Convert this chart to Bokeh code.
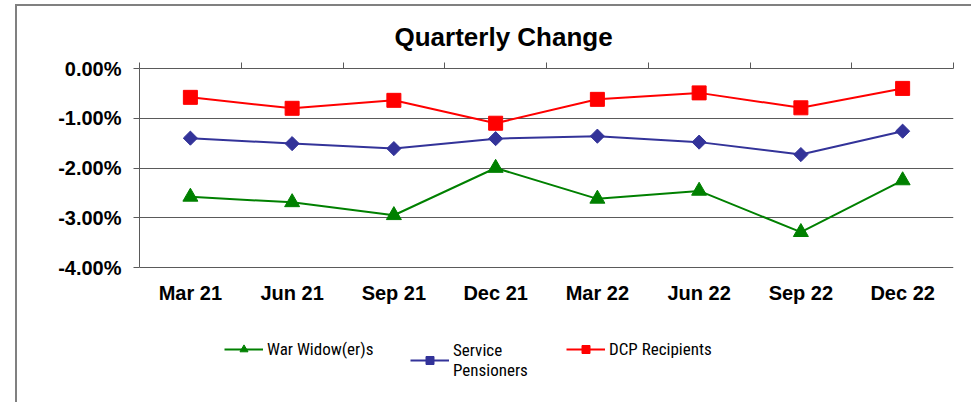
import math
from bokeh.plotting import figure
from bokeh.models import (LinearAxis, FixedTicker, PrintfTickFormatter, Range1d,
                          Legend, LegendItem, ColumnDataSource)
from bokeh.core.properties import value
from bokeh.embed import file_html
from bokeh.resources import INLINE

categories = ["Mar 21", "Jun 21", "Sep 21", "Dec 21", "Mar 22", "Jun 22", "Sep 22", "Dec 22"]
war_widowers = [-2.58, -2.69, -2.95, -2.00, -2.62, -2.46, -3.29, -2.25]
service_pensioners = [-1.40, -1.51, -1.61, -1.41, -1.36, -1.48, -1.73, -1.26]
dcp_recipients = [-0.58, -0.80, -0.64, -1.10, -0.62, -0.49, -0.79, -0.40]
y_ticks = [0, -1, -2, -3, -4]

FONT = "Liberation Sans"
xs = [i + 0.5 for i in range(len(categories))]

OX, OY = 17, 6          # outer border offset
PLOT_H = 199            # pixel height of the 0..-4 band
FRAME_H = 408 - 68 - OY # frame extends down to the bottom (legend lives there)
Y_MIN = min(y_ticks)

p = figure(frame_width=814, frame_height=FRAME_H, output_backend="svg",
           toolbar_location=None,
           x_range=Range1d(0, len(categories)),
           y_range=Range1d(Y_MIN * FRAME_H / PLOT_H, 0),
           x_axis_location=None, y_axis_location=None, title="Quarterly Change",
           min_border_left=139 - OX, min_border_right=18, min_border_top=68 - OY,
           min_border_bottom=0)
p.styles = {"margin-left": f"{OX - 2}px", "margin-top": f"{OY - 2}px",
            "border-left": "2px solid #808080", "border-top": "2px solid #808080"}
p.outline_line_color = None
p.background_fill_color = "white"
p.border_fill_color = "white"
p.xgrid.grid_line_color = None
p.ygrid.ticker = FixedTicker(ticks=y_ticks)
p.ygrid.grid_line_color = "#5a5a5a"
p.ygrid.grid_line_width = 1

p.title.text_font = FONT
p.title.text_font_style = "bold"
p.title.text_font_size = "26px"
p.title.text_color = "black"
p.title.align = "left"
p.title.offset = 394 - 139
p.title.standoff = 21

# left axis
yax = LinearAxis(ticker=FixedTicker(ticks=y_ticks), bounds=(Y_MIN, 0),
                 formatter=PrintfTickFormatter(format="%.2f%%"))
yax.axis_line_color = "#5a5a5a"
yax.major_tick_line_color = "#5a5a5a"
yax.major_tick_out = 6
yax.major_tick_in = 0
yax.minor_tick_line_color = None
yax.major_label_standoff = 12
yax.major_label_text_font = FONT
yax.major_label_text_font_style = "bold"
yax.major_label_text_font_size = "20px"
yax.major_label_text_color = "black"
p.add_layout(yax, "left")

# top axis (ticks at category boundaries)
bounds = list(range(len(categories) + 1))
tax = LinearAxis(ticker=FixedTicker(ticks=bounds),
                 major_label_overrides={b: "" for b in bounds})
tax.axis_line_color = "#5a5a5a"
tax.major_tick_line_color = "#5a5a5a"
tax.major_tick_out = 6
tax.major_tick_in = 0
tax.minor_tick_line_color = None
tax.major_label_standoff = 0
p.add_layout(tax, "above")

src = ColumnDataSource(dict(x=xs, w=war_widowers, s=service_pensioners, d=dcp_recipients,
                            cat=categories, base=[Y_MIN] * len(categories)))

# category labels under the -4% line
p.text("x", "base", text="cat", source=src, y_offset=25,
       text_font=value(FONT), text_font_style="bold", text_font_size="20px",
       text_align="center", text_baseline="middle", text_color="black")

lw = p.line("x", "w", source=src, line_color="#008000", line_width=2)
mw = p.scatter("x", "w", source=src, marker="triangle", size=15,
               fill_color="#008000", line_color="#008000")
ls = p.line("x", "s", source=src, line_color="#333399", line_width=2)
ms = p.scatter("x", "s", source=src, marker="square", angle=math.pi / 4, size=10,
               fill_color="#333399", line_color="#333399")
ld = p.line("x", "d", source=src, line_color="#ff0000", line_width=2)
md = p.scatter("x", "d", source=src, marker="square", size=14,
               fill_color="#ff0000", line_color="#ff0000")


def add_legend(label, rends, loc):
    lg = Legend(items=[LegendItem(label=label, renderers=rends)], location=loc,
                orientation="horizontal", glyph_width=39, glyph_height=20,
                label_height=20, label_standoff=4, padding=0, margin=0, spacing=0,
                border_line_color=None, background_fill_alpha=0,
                label_text_font="Roboto Condensed", label_text_font_size="17px",
                label_text_line_height=1.3, label_text_color="black")
    p.add_layout(lg)


add_legend("War Widow(er)s", [lw, mw], (224 - 139, 43))
add_legend("Service\nPensioners", [ls, ms], (410 - 139, 22))
add_legend("DCP Recipients", [ld, md], (566 - 139, 43))

open("out.html", "w").write(file_html(p, INLINE))
